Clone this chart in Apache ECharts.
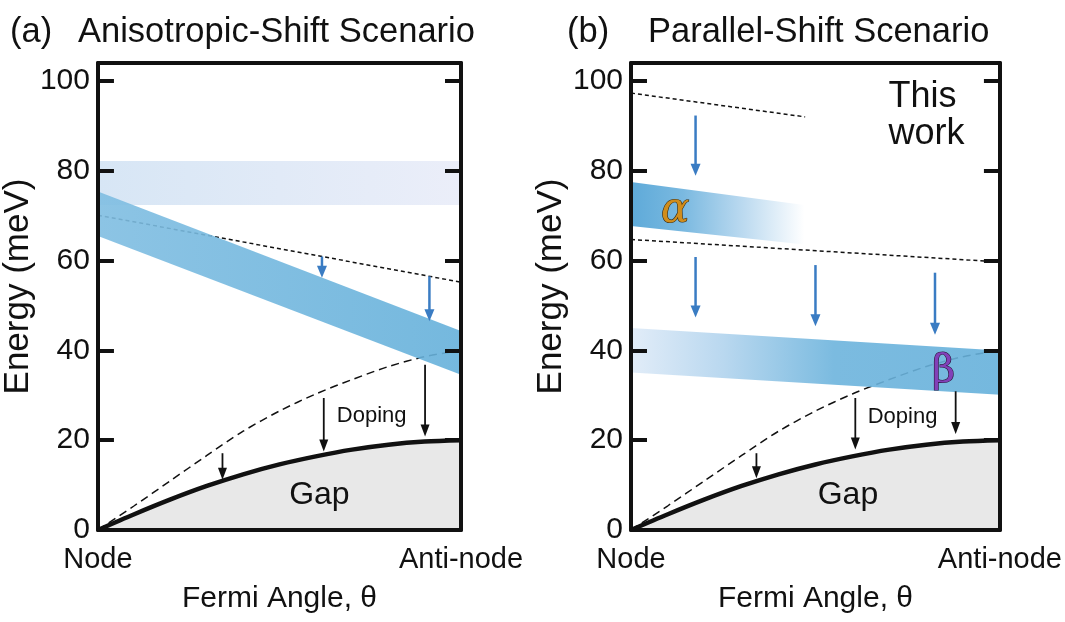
<!DOCTYPE html>
<html>
<head>
<meta charset="utf-8">
<title>Anisotropic vs Parallel Shift</title>
<script src="https://cdn.jsdelivr.net/npm/echarts@6/dist/echarts.min.js"></script>
<style>
  html, body { margin: 0; padding: 0; background: #fff; }
  #main { width: 1065px; height: 622px; }
</style>
</head>
<body>
<div id="main"></div>
<script>
// Fermi angle, 0 = node, 1 = anti-node
const angles = [0, 0.1, 0.2, 0.3, 0.4, 0.5, 0.6, 0.7, 0.8, 0.9, 1]
// gap before doping (dashed) and after doping (thick, filled)
const gapBefore = [0, 5.4, 11.0, 16.6, 22.0, 26.5, 30.3, 33.5, 36.4, 38.6, 40]
const gapAfter = [0, 3.5, 6.8, 9.8, 12.4, 14.6, 16.4, 17.9, 19.0, 19.7, 20]

// panel (a)
const paleX = [0, 1]
const paleTop = [82.2, 82.2]
const paleBottom = [72.4, 72.4]
const kinkAX = [0, 1]
const kinkATop = [75.4, 44.3]
const kinkABottom = [65.5, 34.6]
const dashAX = [0, 1]
const dashA = [70.1, 55.2]
const blueArrowAX = [0.617, 0.913]
const blueArrowAFrom = [60.9, 56.5]
const blueArrowATo = [56.2, 46.5]
const blackArrowAX = [0.343, 0.622, 0.901]
const blackArrowAFrom = [17.1, 29.4, 36.8]
const blackArrowATo = [11.2, 17.5, 20.8]
const notesA = ['Gap', 'Doping']
const notesAX = [0.61, 0.754]
const notesAY = [7.8, 25.3]

// panel (b)
const dashB1X = [0, 0.472]
const dashB1 = [97.3, 92.0]
const dashB2X = [0, 1]
const dashB2 = [64.7, 59.7]
const alphaX = [0, 0.47]
const alphaTop = [77.5, 72.4]
const alphaBottom = [67.7, 63.6]
const betaX = [0, 1]
const betaTop = [45.0, 40.0]
const betaBottom = [35.1, 30.1]
const blueArrowBX = [0.175, 0.175, 0.5, 0.824]
const blueArrowBFrom = [92.3, 60.8, 59.0, 57.3]
const blueArrowBTo = [78.9, 47.3, 45.4, 43.5]
const blackArrowBX = [0.34, 0.608, 0.88]
const blackArrowBFrom = [17.1, 29.4, 30.9]
const blackArrowBTo = [11.5, 17.9, 21.4]
const notesB = ['Gap', 'Doping', 'This\nwork', 'α', 'β']
const notesBX = [0.588, 0.736, 0.698, 0.12, 0.847]
const notesBY = [7.8, 25.2, 92.3, 71.0, 35.2]

const FONT = '"Liberation Sans", Arial, Helvetica, sans-serif'
const SERIF = '"DejaVu Serif", serif'
const INK = '#111'

function hGrad (stops) {
  return new echarts.graphic.LinearGradient(0, 0, 1, 0, stops)
}

// filled band between two edges, drawn through the axes
function band (p, xs, top, bottom, fill, opacity) {
  return {
    type: 'custom',
    xAxisIndex: 2 * p,
    yAxisIndex: 2 * p,
    silent: true,
    z: 3,
    data: [[xs[0], top[0]]],
    renderItem (params, api) {
      const upper = xs.map((x, i) => api.coord([x, top[i]]))
      const lower = xs.map((x, i) => api.coord([x, bottom[i]])).reverse()
      return {
        type: 'polygon',
        shape: { points: upper.concat(lower) },
        style: { fill, opacity: opacity || 1 }
      }
    }
  }
}

function curve (p, xs, ys, style, extra) {
  return Object.assign({
    type: 'line',
    xAxisIndex: 2 * p,
    yAxisIndex: 2 * p,
    symbol: 'none',
    silent: true,
    z: 2,
    data: xs.map((x, i) => [x, ys[i]]),
    lineStyle: style
  }, extra || {})
}

// downward arrows, tip exactly at the end value
function arrows (p, xs, from, to, color, width, head) {
  return {
    type: 'custom',
    xAxisIndex: 2 * p,
    yAxisIndex: 2 * p,
    silent: true,
    z: 5,
    data: xs.map((x, i) => [x, from[i], to[i]]),
    renderItem (params, api) {
      const a = api.coord([api.value(0), api.value(1)])
      const b = api.coord([api.value(0), api.value(2)])
      return {
        type: 'group',
        children: [
          {
            type: 'line',
            shape: { x1: a[0], y1: a[1], x2: b[0], y2: b[1] - head[1] + 1 },
            style: { stroke: color, lineWidth: width }
          },
          {
            type: 'polygon',
            shape: { points: [[b[0], b[1]], [b[0] - head[0] / 2, b[1] - head[1]], [b[0] + head[0] / 2, b[1] - head[1]]] },
            style: { fill: color }
          }
        ]
      }
    }
  }
}

// text annotations placed at data positions
function notes (p, texts, xs, ys, styles) {
  return {
    type: 'custom',
    xAxisIndex: 2 * p,
    yAxisIndex: 2 * p,
    silent: true,
    z: 6,
    data: xs.map((x, i) => [x, ys[i], i]),
    renderItem (params, api) {
      const i = api.value(2)
      const pt = api.coord([api.value(0), api.value(1)])
      return {
        type: 'text',
        x: pt[0],
        y: pt[1],
        style: Object.assign({
          text: texts[i],
          fill: INK,
          fontFamily: FONT,
          align: 'center',
          verticalAlign: 'middle'
        }, styles[i])
      }
    }
  }
}

const frame = { color: INK, width: 4 }

function xAxes (p) {
  return [{
    type: 'value',
    gridIndex: p,
    min: 0,
    max: 1,
    interval: 1,
    z: 10,
    axisLine: { show: true, onZero: false, lineStyle: frame },
    axisTick: { show: false },
    splitLine: { show: false },
    axisLabel: {
      formatter: v => (v === 0 ? 'Node' : v === 1 ? 'Anti-node' : ''),
      fontSize: 29,
      color: INK,
      margin: 15
    },
    name: 'Fermi Angle, θ',
    nameLocation: 'middle',
    nameGap: 54,
    nameTextStyle: { fontSize: 30, color: INK }
  }, {
    type: 'value',
    gridIndex: p,
    position: 'top',
    min: 0,
    max: 1,
    z: 10,
    axisLine: { show: true, onZero: false, lineStyle: frame },
    axisTick: { show: false },
    axisLabel: { show: false },
    splitLine: { show: false }
  }]
}

function yAxes (p) {
  const base = {
    type: 'value',
    gridIndex: p,
    min: 0,
    max: 104,
    interval: 20,
    z: 10,
    axisLine: { show: true, onZero: false, lineStyle: frame },
    axisTick: { show: true, inside: true, length: 16, lineStyle: frame },
    splitLine: { show: false }
  }
  return [Object.assign({}, base, {
    position: 'left',
    axisLabel: {
      formatter: v => (v % 20 === 0 && v <= 100 ? String(v) : ''),
      fontSize: 30,
      color: INK,
      margin: 8
    },
    name: 'Energy (meV)',
    nameLocation: 'middle',
    nameGap: 55,
    nameTextStyle: { fontSize: 35, color: INK, padding: [0, 0, 0, 20] }
  }), Object.assign({}, base, {
    position: 'right',
    axisLabel: { show: false }
  })]
}

const gapLine = { color: INK, width: 4.5 }
const longDash = { color: INK, width: 1.5, type: [8, 5] }
const shortDash = { color: INK, width: 1.5, type: [4, 3] }
const BLUE_ARROW = '#3a7cc3'
const titleFont = '34.5px ' + FONT

const chart = echarts.init(document.getElementById('main'))
chart.setOption({
  animation: false,
  textStyle: { fontFamily: FONT },
  graphic: [
    { type: 'text', left: 10, top: 15, style: { text: '(a)', fill: INK, font: titleFont } },
    { type: 'text', left: 78, top: 15, style: { text: 'Anisotropic-Shift Scenario', fill: INK, font: titleFont } },
    { type: 'text', left: 567, top: 15, style: { text: '(b)', fill: INK, font: titleFont } },
    { type: 'text', left: 648, top: 15, style: { text: 'Parallel-Shift Scenario', fill: INK, font: titleFont } }
  ],
  grid: [
    { left: 97, right: 604, top: 63, bottom: 92 },
    { left: 631, right: 58, top: 63, bottom: 92 }
  ],
  xAxis: xAxes(0).concat(xAxes(1)),
  yAxis: yAxes(0).concat(yAxes(1)),
  series: [
    // (a)
    band(0, paleX, paleTop, paleBottom, hGrad([{ offset: 0, color: '#d7e6f5' }, { offset: 1, color: '#ebeef9' }])),
    curve(0, angles, gapAfter, gapLine, { smooth: 0.3, areaStyle: { color: '#e8e8e8', opacity: 1 } }),
    curve(0, angles, gapBefore, longDash, { smooth: 0.3 }),
    curve(0, dashAX, dashA, shortDash),
    band(0, kinkAX, kinkATop, kinkABottom, hGrad([{ offset: 0, color: '#80bee2' }, { offset: 1, color: '#66b1db' }]), 0.9),
    arrows(0, blueArrowAX, blueArrowAFrom, blueArrowATo, BLUE_ARROW, 2.5, [10, 12]),
    arrows(0, blackArrowAX, blackArrowAFrom, blackArrowATo, INK, 1.8, [9, 12]),
    notes(0, notesA, notesAX, notesAY, [{ fontSize: 32 }, { fontSize: 22 }]),
    // (b)
    curve(1, angles, gapAfter, gapLine, { smooth: 0.3, areaStyle: { color: '#e8e8e8', opacity: 1 } }),
    curve(1, angles, gapBefore, longDash, { smooth: 0.3 }),
    curve(1, dashB1X, dashB1, shortDash),
    curve(1, dashB2X, dashB2, shortDash),
    band(1, alphaX, alphaTop, alphaBottom, hGrad([
      { offset: 0, color: '#5eaad9' }, { offset: 0.3, color: '#7ab9e0' },
      { offset: 0.65, color: '#bcdaf0' }, { offset: 1, color: '#ffffff' }
    ])),
    band(1, betaX, betaTop, betaBottom, hGrad([
      { offset: 0, color: '#dfebf8' }, { offset: 0.25, color: '#b2d4ee' },
      { offset: 0.55, color: '#6db4dd' }, { offset: 1, color: '#66b1db' }
    ]), 0.9),
    arrows(1, blueArrowBX, blueArrowBFrom, blueArrowBTo, BLUE_ARROW, 2.5, [10, 12]),
    arrows(1, blackArrowBX, blackArrowBFrom, blackArrowBTo, INK, 1.8, [9, 12]),
    notes(1, notesB, notesBX, notesBY, [
      { fontSize: 32 },
      { fontSize: 22 },
      { fontSize: 36, lineHeight: 37, align: 'left' },
      { fontSize: 42, fontFamily: SERIF, fontStyle: 'italic', fill: '#d08d1c', stroke: '#3a2a10', lineWidth: 1.2 },
      { fontSize: 40, fontFamily: SERIF, fill: '#8240b8', stroke: '#2a1438', lineWidth: 1.2 }
    ])
  ]
})
</script>
</body>
</html>
